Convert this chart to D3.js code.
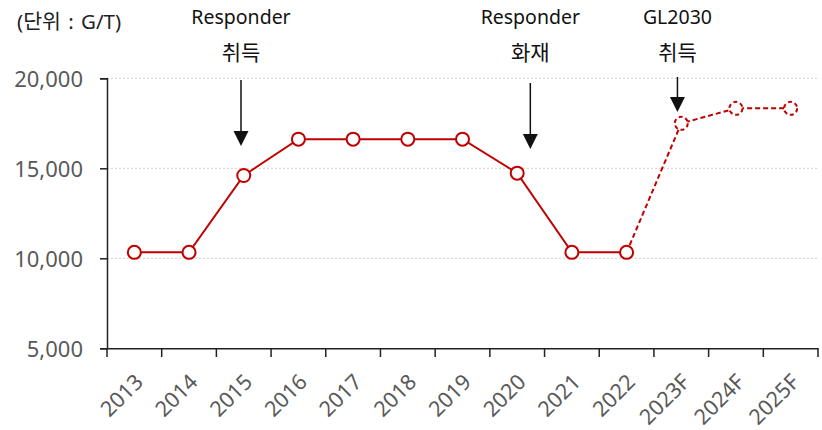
<!DOCTYPE html>
<html>
<head>
<meta charset="utf-8">
<script src="https://cdn.jsdelivr.net/npm/d3@7"></script>
<style>
  body { margin: 0; background: #fff; }
  svg { display: block; }
  svg text { font-family: "Noto Sans", "Noto Sans CJK KR", sans-serif; }
  .tick-y text { fill: #595959; font-size: 22px; }
  .tick-x text { fill: #595959; font-size: 21.5px; }
  .note { fill: #111; font-size: 19.5px; }
  .note.kr { font-size: 21px; }
</style>
</head>
<body>
<svg width="822" height="430"></svg>
<script>
const years = ["2013", "2014", "2015", "2016", "2017", "2018", "2019", "2020", "2021", "2022", "2023F", "2024F", "2025F"]
const price = [10330, 10330, 14600, 16620, 16620, 16620, 16620, 14730, 10330, 10330, 17500, 18330, 18330]
const forecastFrom = 9   // 2022 is the last actual point
const yTicks = [5000, 10000, 15000, 20000]

// annotations: category index, shift in bands, label lines, arrow top / tip
const notes = [
    { at: 2, off: -0.05, lines: ["Responder", "취득"], top: 80, tip: 146 },
    { at: 7, off: 0.24, lines: ["Responder", "화재"], top: 83, tip: 149 },
    { at: 10, off: -0.07, lines: ["GL2030", "취득"], top: 77, tip: 112 }
]

const svg = d3.select("svg")
const red = "#c00000"

const x = d3.scaleBand()
    .domain(years)
    .range([107, 818])

const y = d3.scaleLinear()
    .domain([5000, 20000])
    .range([348.3, 78.3])

// gridlines
svg.append("g")
    .selectAll("line")
    .data(yTicks.slice(1))
    .enter()
    .append("line")
    .attr("x1", 107)
    .attr("x2", 818)
    .attr("y1", d => y(d))
    .attr("y2", d => y(d))
    .attr("stroke", "#d0d0d0")
    .attr("stroke-width", 1)
    .attr("stroke-dasharray", "2,2")

// y axis
const yAxis = svg.append("g")
    .attr("class", "tick-y")
    .attr("transform", "translate(107,0)")
    .call(d3.axisLeft(y).tickValues(yTicks).tickFormat(d3.format(",")).tickSize(7).tickPadding(17))
yAxis.attr("font-family", null).attr("font-size", null)
yAxis.select(".domain").attr("stroke", "#222").attr("stroke-width", 1.5)
yAxis.selectAll(".tick line").attr("stroke", "#222").attr("stroke-width", 1.5)
yAxis.selectAll("text").attr("dy", "0.36em")

// x axis
const xAxis = svg.append("g")
    .attr("class", "tick-x")
    .attr("transform", "translate(0,348.3)")
    .call(d3.axisBottom(x).tickSize(0).tickSizeOuter(0))
xAxis.attr("font-family", null).attr("font-size", null)
xAxis.select(".domain").attr("stroke", "#222").attr("stroke-width", 1.5)
xAxis.selectAll(".tick line").remove()
xAxis.selectAll("text")
    .attr("text-anchor", "end")
    .attr("dy", null)
    .attr("y", 0)
    .attr("transform", "translate(10,35) rotate(-45)")

// band boundary ticks
svg.append("g")
    .selectAll("line")
    .data(years.concat(["end"]))
    .enter()
    .append("line")
    .attr("x1", (d, i) => 107 + i * x.step())
    .attr("x2", (d, i) => 107 + i * x.step())
    .attr("y1", 348.3)
    .attr("y2", 357)
    .attr("stroke", "#222")
    .attr("stroke-width", 1.5)

const pts = years.map((d, i) => ({ year: d, v: price[i], i: i }))
const cx = d => x(d.year) + x.bandwidth() / 2

const line = d3.line()
    .x(cx)
    .y(d => y(d.v))

svg.append("path")
    .datum(pts.slice(0, forecastFrom + 1))
    .attr("d", line)
    .attr("fill", "none")
    .attr("stroke", red)
    .attr("stroke-width", 2)

svg.append("path")
    .datum(pts.slice(forecastFrom))
    .attr("d", line)
    .attr("fill", "none")
    .attr("stroke", red)
    .attr("stroke-width", 2)
    .attr("stroke-dasharray", "5,3")

svg.append("g")
    .selectAll("circle")
    .data(pts)
    .enter()
    .append("circle")
    .attr("cx", cx)
    .attr("cy", d => y(d.v))
    .attr("r", 6.5)
    .attr("fill", "#fff")
    .attr("stroke", red)
    .attr("stroke-width", 2)
    .attr("stroke-dasharray", d => d.i > forecastFrom ? "4,2.8" : null)

// unit label
svg.append("text")
    .attr("class", "note")
    .attr("x", 17)
    .attr("y", 29)
    .style("fill", "#222")
    .style("font-size", "20.5px")
    .style("word-spacing", "2px")
    .text("(단위 : G/T)")

// annotations with arrows
const ann = svg.append("g")
    .selectAll("g")
    .data(notes)
    .enter()
    .append("g")
    .attr("transform", d => `translate(${x(years[d.at]) + x.bandwidth() / 2 + d.off * x.step()},0)`)

ann.append("text")
    .attr("class", "note")
    .attr("text-anchor", "middle")
    .attr("y", 24)
    .text(d => d.lines[0])

ann.append("text")
    .attr("class", d => /^[A-Za-z0-9]/.test(d.lines[1]) ? "note" : "note kr")
    .attr("text-anchor", "middle")
    .attr("y", 60)
    .text(d => d.lines[1])

ann.append("line")
    .attr("x1", 0)
    .attr("x2", 0)
    .attr("y1", d => d.top)
    .attr("y2", d => d.tip - 12)
    .attr("stroke", "#111")
    .attr("stroke-width", 1.5)

ann.append("path")
    .attr("d", d => `M-7.5,${d.tip - 15}L7.5,${d.tip - 15}L0,${d.tip}Z`)
    .attr("fill", "#111")
</script>
</body>
</html>
